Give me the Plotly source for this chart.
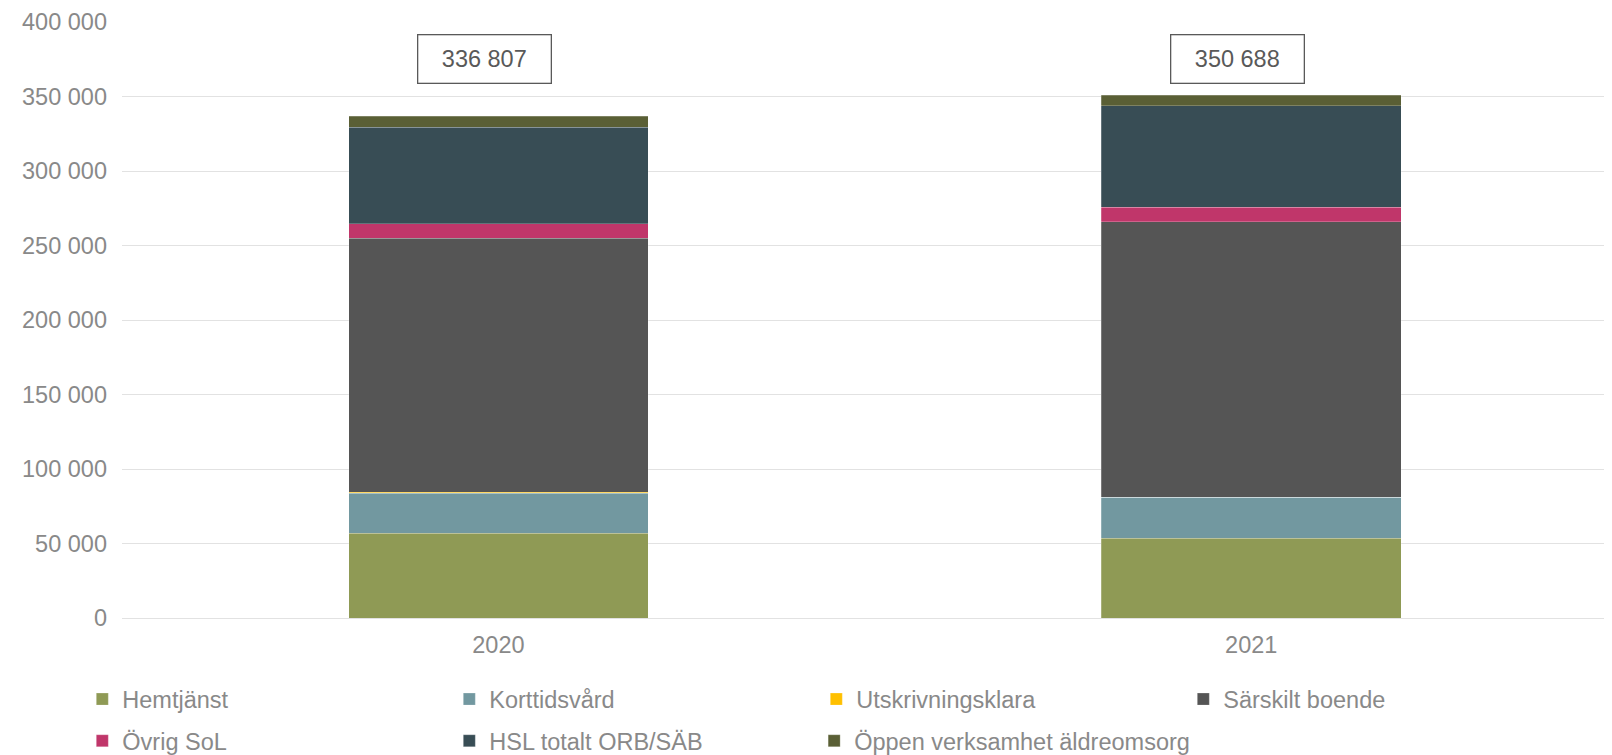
import plotly.graph_objects as go

years = ["2020", "2021"]
series_names = ["Hemtjänst", "Korttidsvård", "Utskrivningsklara", "Särskilt boende",
                "Övrig SoL", "HSL totalt ORB/SÄB", "Öppen verksamhet äldreomsorg"]
hemtjanst = [56800, 53400]
korttidsvard = [26900, 27500]
utskrivningsklara = [800, 200]
sarskilt_boende = [170500, 184800]
ovrig_sol = [9500, 9900]
hsl_totalt = [64800, 68100]
oppen_verksamhet = [7507, 6788]
totals = [336807, 350688]
total_labels = ["336 807", "350 688"]
y_ticks = [0, 50000, 100000, 150000, 200000, 250000, 300000, 350000, 400000]
y_tick_labels = ["0", "50 000", "100 000", "150 000", "200 000", "250 000", "300 000", "350 000", "400 000"]

colors = ["#8F9A55", "#7298A0", "#FFC000", "#555555", "#C0366A", "#384D55", "#5A5F35"]
values = [hemtjanst, korttidsvard, utskrivningsklara, sarskilt_boende, ovrig_sol, hsl_totalt, oppen_verksamhet]
legend_of = ["legend", "legend", "legend", "legend", "legend2", "legend2", "legend3"]

FONT = "Liberation Sans, Arial, sans-serif"
FS = 23.5
GRAY = "#898989"
fig = go.Figure()
for name, vals, col, lg in zip(series_names, values, colors, legend_of):
    fig.add_trace(go.Bar(x=years, y=vals, name=name, marker_color=col,
                         marker_line=dict(width=0.5, color="rgba(255,255,255,0.45)"),
                         hoverinfo="skip", legend=lg))

for i, lbl in enumerate(total_labels):
    fig.add_annotation(x=i, y=375500, xref="x", yref="y", text=lbl, showarrow=False,
                       xshift=-14, width=110, height=25,
                       font=dict(family=FONT, size=FS, color="#595959"),
                       bordercolor="#595959", borderwidth=1.3, borderpad=11,
                       bgcolor="white")

leg_common = dict(orientation="h", traceorder="normal", xanchor="left", yanchor="middle",
                  font=dict(family=FONT, size=FS, color=GRAY),
                  bgcolor="rgba(0,0,0,0)")
fig.update_layout(
    barmode="stack",
    bargap=0.602,
    width=1612, height=755,
    paper_bgcolor="white", plot_bgcolor="white",
    margin=dict(l=113.7, r=0, t=13.7, b=143.7),
    font=dict(family=FONT, size=FS, color=GRAY),
    showlegend=True,
    legend=dict(x=-0.0265, y=-0.1345, entrywidth=322, entrywidthmode="pixels", **leg_common),
    legend2=dict(x=-0.0265, y=-0.2062, entrywidth=322, entrywidthmode="pixels", **leg_common),
    legend3=dict(x=-0.0265 + 2 * 366 / 1498.3, y=-0.2062, **leg_common),
    yaxis=dict(range=[0, 400000], tickvals=y_ticks, ticktext=y_tick_labels,
               showgrid=True, gridcolor="#E2E2E2", gridwidth=1.3, zeroline=False,
               ticks="", ticklabelstandoff=14),
    xaxis=dict(type="category", categoryorder="array", categoryarray=years,
               range=[-0.5, 1.4898], showline=True, linecolor="#E2E2E2", linewidth=1.3,
               ticks="", ticklabelstandoff=6),
)
fig.write_html("out.html")
